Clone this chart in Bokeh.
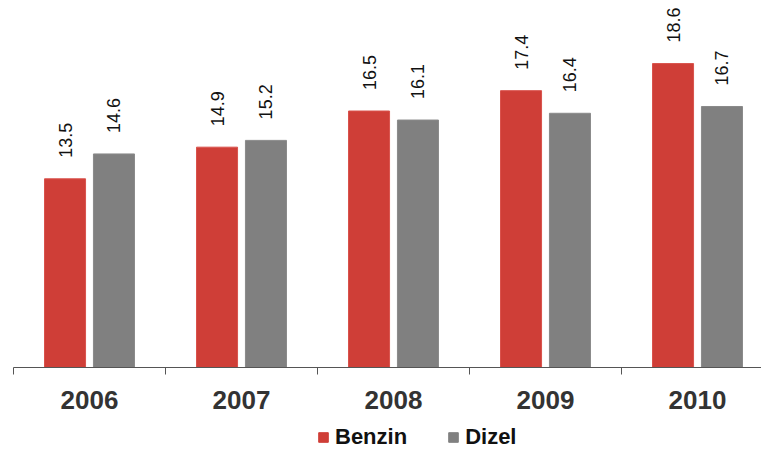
import math
from bokeh.plotting import figure
from bokeh.layouts import column
from bokeh.models import ColumnDataSource, FixedTicker, Legend, LegendItem, Range1d
from bokeh.core.properties import value
from bokeh.embed import file_html
from bokeh.resources import INLINE

years = ["2006", "2007", "2008", "2009", "2010"]
benzin = [13.5, 14.9, 16.5, 17.4, 18.6]
dizel = [14.6, 15.2, 16.1, 16.4, 16.7]
series = ["Benzin", "Dizel"]
y_min = 5.15
y_max = 21.39

idx = list(range(len(years)))
off = 0.161
bw = 0.27
red = "#CF3E37"
gray = "#808080"

src_b = ColumnDataSource(dict(x=[i - off for i in idx], top=benzin,
                              lab=[f"{v:.1f}" for v in benzin]))
src_d = ColumnDataSource(dict(x=[i + off for i in idx], top=dizel,
                              lab=[f"{v:.1f}" for v in dizel]))

main_h = 420
p = figure(width=761, height=main_h, output_backend="svg", toolbar_location=None,
           x_range=Range1d(-0.5, -0.5 + 748 / 152), y_range=Range1d(y_min, y_max),
           y_axis_location=None, min_border_left=13, min_border_right=0,
           min_border_top=0, min_border_bottom=main_h - 367)
p.outline_line_color = None
p.grid.visible = False
p.background_fill_color = "white"
p.border_fill_color = "white"

p.vbar(x="x", top="top", bottom=y_min, width=bw, source=src_b,
       fill_color=red, line_color="#D9524C", line_width=1)
p.vbar(x="x", top="top", bottom=y_min, width=bw, source=src_d,
       fill_color=gray, line_color="#8a8a8a", line_width=1)

for s in (src_b, src_d):
    p.text(x="x", y="top", text="lab", source=s, angle=math.pi / 2,
           text_align="left", text_baseline="middle", y_offset=-21,
           text_font=value("Liberation Sans"), text_font_size="18px",
           text_color="#111111")

ax = p.xaxis[0]
ax.ticker = FixedTicker(ticks=idx, minor_ticks=[i - 0.5 for i in idx] + [len(years) - 0.5])
ax.major_label_overrides = {i: y for i, y in enumerate(years)}
ax.major_tick_line_color = None
ax.major_tick_out = 0
ax.major_tick_in = 0
ax.minor_tick_out = 7
ax.minor_tick_in = 0
ax.minor_tick_line_color = "#555555"
ax.axis_line_color = "#555555"
ax.axis_line_width = 1
ax.major_label_standoff = 16
ax.major_label_text_font = "Liberation Sans"
ax.major_label_text_font_style = "bold"
ax.major_label_text_font_size = "26px"
ax.major_label_text_color = "#333333"

# legend strip
leg_h = 452 - main_h
q = figure(width=761, height=leg_h, output_backend="svg", toolbar_location=None,
           x_range=Range1d(0, 1), y_range=Range1d(0, 1),
           x_axis_location=None, y_axis_location=None,
           min_border_left=0, min_border_right=0, min_border_top=0, min_border_bottom=0)
q.outline_line_color = None
q.grid.visible = False
# legend-only renderers, placed outside the visible range
r1 = q.vbar(x=[5], top=[5], bottom=[4], width=0.1, fill_color=red, line_color=red)
r2 = q.vbar(x=[5], top=[5], bottom=[4], width=0.1, fill_color=gray, line_color=gray)
legend = Legend(items=[LegendItem(label=series[0], renderers=[r1], index=0),
                       LegendItem(label=series[1], renderers=[r2], index=0)],
                orientation="horizontal", location=(304, 2),
                glyph_width=12, glyph_height=12, label_standoff=6, spacing=40,
                padding=0, margin=0, border_line_color=None,
                background_fill_alpha=0, label_height=14,
                label_text_font="Liberation Sans", label_text_font_style="bold",
                label_text_font_size="22px", label_text_color="#111111")
q.add_layout(legend, "center")

layout = column(p, q, spacing=0)
open("out.html", "w").write(file_html(layout, INLINE))
